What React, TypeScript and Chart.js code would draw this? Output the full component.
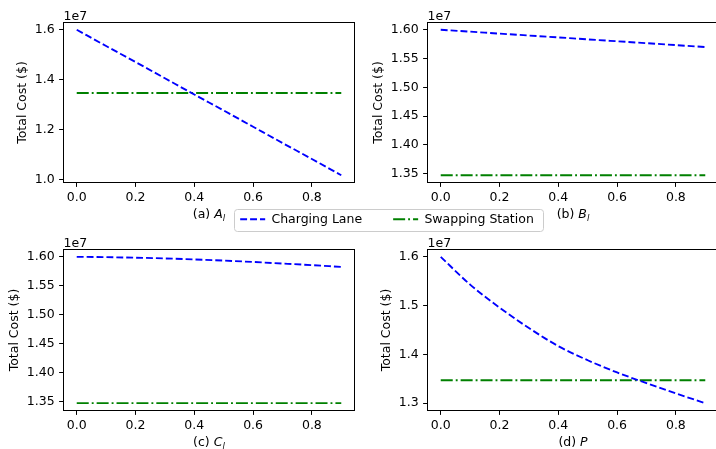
import React, { useEffect, useRef } from "react";
import { Chart, registerables } from "chart.js";

Chart.register(...registerables);

// ---------- data (values in units of 1e7 $) ----------
const xValues = [0, 0.1, 0.2, 0.3, 0.4, 0.5, 0.6, 0.7, 0.8, 0.9];
const xTicks = [0, 0.2, 0.4, 0.6, 0.8];

const chargingA = [1.6, 1.535, 1.471, 1.406, 1.341, 1.277, 1.212, 1.147, 1.083, 1.018];
const chargingB = [1.6, 1.5967, 1.5933, 1.59, 1.5867, 1.5833, 1.58, 1.5767, 1.5733, 1.57];
const chargingC = [1.6, 1.5994, 1.5985, 1.5972, 1.5955, 1.5935, 1.5911, 1.5884, 1.5856, 1.5826];
const chargingD = [1.6, 1.543, 1.496, 1.454, 1.417, 1.388, 1.363, 1.341, 1.32, 1.3];
const swapping = [1.347, 1.347, 1.347, 1.347, 1.347, 1.347, 1.347, 1.347, 1.347, 1.347];

const yTicksA = [1.0, 1.2, 1.4, 1.6];
const yTicksB = [1.35, 1.4, 1.45, 1.5, 1.55, 1.6];
const yTicksC = [1.35, 1.4, 1.45, 1.5, 1.55, 1.6];
const yTicksD = [1.3, 1.4, 1.5, 1.6];

const seriesLabels = ["Charging Lane", "Swapping Station"];
const panelLetters = ["(a)", "(b)", "(c)", "(d)"];
const panelSymbols = ["A", "B", "C", "P"];
const panelSubs = ["l", "l", "l", ""];
const yAxisTitle = "Total Cost ($)";
const offsetText = "1e7";

// ---------- styling / layout ----------
const FAM = '"DejaVu Sans", sans-serif';
const FONT_SIZE = 12.5;
const BLUE = "#0000ff";
const GREEN = "#008000";
const DASH_CHARGING = [6.9, 3];
const DASH_SWAPPING = [12, 3, 1.9, 3];
const LINE_W = 1.875;

type Lay = {
  left: number;
  top: number;
  width: number;
  height: number;
  area: { l: number; t: number; r: number; b: number };
  titlePad: number;
};

const layouts: Lay[] = [
  { left: 0, top: 0, width: 358, height: 225, area: { l: 63.5, t: 22.5, r: 354.5, b: 182.5 }, titlePad: 15 },
  { left: 358, top: 0, width: 362, height: 225, area: { l: 69.5, t: 22.5, r: 360.5, b: 182.5 }, titlePad: 12.8 },
  { left: 0, top: 225, width: 358, height: 224, area: { l: 63.5, t: 24.5, r: 354.5, b: 185.5 }, titlePad: 6.8 },
  { left: 358, top: 225, width: 362, height: 224, area: { l: 69.5, t: 24.5, r: 360.5, b: 185.5 }, titlePad: 21.2 },
];

const panels = [
  { charging: chargingA, yTicks: yTicksA, dec: 1 },
  { charging: chargingB, yTicks: yTicksB, dec: 2 },
  { charging: chargingC, yTicks: yTicksC, dec: 2 },
  { charging: chargingD, yTicks: yTicksD, dec: 1 },
];

const framePlugin = {
  id: "frame",
  afterDraw(chart: any, _args: any, opts: any) {
    const { ctx, chartArea: a } = chart;
    ctx.save();
    ctx.strokeStyle = "#000";
    ctx.lineWidth = 1;
    ctx.setLineDash([]);
    ctx.strokeRect(a.left, a.top, a.right - a.left, a.bottom - a.top);

    ctx.fillStyle = "#000";
    ctx.textAlign = "left";
    ctx.textBaseline = "alphabetic";
    ctx.font = `${FONT_SIZE}px ${FAM}`;
    ctx.fillText(offsetText, a.left, a.top - 3);

    // x label: "(x) S_sub"
    const main = `${FONT_SIZE}px ${FAM}`;
    const ital = `italic ${FONT_SIZE}px ${FAM}`;
    const subF = `italic ${FONT_SIZE * 0.7}px ${FAM}`;
    ctx.font = main;
    const w1 = ctx.measureText(opts.letter + " ").width;
    ctx.font = ital;
    const w2 = ctx.measureText(opts.symbol).width;
    ctx.font = subF;
    const w3 = opts.sub ? ctx.measureText(opts.sub).width : 0;
    const cx = (a.left + a.right) / 2;
    const y = a.bottom + 35;
    let x = cx - (w1 + w2 + w3) / 2;
    ctx.font = main;
    ctx.fillText(opts.letter + " ", x, y);
    x += w1;
    ctx.font = ital;
    ctx.fillText(opts.symbol, x, y);
    x += w2;
    if (opts.sub) {
      ctx.font = subF;
      ctx.fillText(opts.sub, x, y + 3.5);
    }
    ctx.restore();
  },
};

const legendFramePlugin = {
  id: "legendFrame",
  beforeDraw(chart: any) {
    const hb = chart.legend && chart.legend.legendHitBoxes;
    if (!hb || !hb.length) return;
    const first = hb[0];
    const last = hb[hb.length - 1];
    const cy = first.top + FONT_SIZE / 2;
    const x0 = Math.round(first.left - 6) + 0.5;
    const x1 = Math.round(last.left + last.width + 9) + 0.5;
    const y0 = Math.round(cy - 10.5) + 0.5;
    const y1 = y0 + 22;
    const r = 3;
    const { ctx } = chart;
    ctx.save();
    ctx.beginPath();
    ctx.moveTo(x0 + r, y0);
    ctx.lineTo(x1 - r, y0);
    ctx.arcTo(x1, y0, x1, y0 + r, r);
    ctx.lineTo(x1, y1 - r);
    ctx.arcTo(x1, y1, x1 - r, y1, r);
    ctx.lineTo(x0 + r, y1);
    ctx.arcTo(x0, y1, x0, y1 - r, r);
    ctx.lineTo(x0, y0 + r);
    ctx.arcTo(x0, y0, x0 + r, y0, r);
    ctx.closePath();
    ctx.fillStyle = "rgba(255,255,255,0.8)";
    ctx.fill();
    ctx.strokeStyle = "#cccccc";
    ctx.lineWidth = 1;
    ctx.stroke();
    ctx.restore();
  },
};

function Panel({ idx }: { idx: number }) {
  const ref = useRef<HTMLCanvasElement>(null);
  const lay = layouts[idx];
  const p = panels[idx];
  useEffect(() => {
    const allY = [...p.charging, ...swapping];
    const yMin = Math.min(...allY);
    const yMax = Math.max(...allY);
    const ym = 0.05 * (yMax - yMin);
    const xMinD = Math.min(...xValues);
    const xMaxD = Math.max(...xValues);
    const xm = 0.05 * (xMaxD - xMinD);
    const font = { family: FAM, size: FONT_SIZE };
    const chart = new Chart(ref.current as HTMLCanvasElement, {
      type: "line",
      data: {
        datasets: [
          {
            label: seriesLabels[0],
            data: xValues.map((x, i) => ({ x, y: p.charging[i] })),
            borderColor: BLUE,
            backgroundColor: BLUE,
            borderWidth: LINE_W,
            borderDash: DASH_CHARGING,
            pointRadius: 0,
            fill: false,
            cubicInterpolationMode: "monotone",
          },
          {
            label: seriesLabels[1],
            data: xValues.map((x, i) => ({ x, y: swapping[i] })),
            borderColor: GREEN,
            backgroundColor: GREEN,
            borderWidth: LINE_W,
            borderDash: DASH_SWAPPING,
            pointRadius: 0,
            fill: false,
            tension: 0,
          },
        ],
      },
      options: {
        responsive: false,
        animation: false,
        devicePixelRatio: 1,
        events: [],
        layout: { padding: { top: lay.area.t, right: lay.width - lay.area.r, bottom: 0, left: 0 } },
        plugins: {
          legend: { display: false },
          tooltip: { enabled: false },
          frame: { letter: panelLetters[idx], symbol: panelSymbols[idx], sub: panelSubs[idx] },
        } as any,
        scales: {
          x: {
            type: "linear",
            position: "bottom",
            min: xMinD - xm,
            max: xMaxD + xm,
            afterBuildTicks: (s: any) => {
              s.ticks = xTicks.map((v) => ({ value: v }));
            },
            afterFit: (s: any) => {
              s.height = lay.height - lay.area.b;
            },
            ticks: {
              autoSkip: false,
              maxRotation: 0,
              padding: 3.5,
              color: "#000",
              font,
              callback: (v: any) => Number(v).toFixed(1),
            },
            grid: { display: true, drawOnChartArea: false, drawTicks: true, tickLength: 4.4, tickWidth: 1, tickColor: "#000" },
            border: { display: false },
          },
          y: {
            type: "linear",
            position: "left",
            min: yMin - ym,
            max: yMax + ym,
            afterBuildTicks: (s: any) => {
              s.ticks = p.yTicks.map((v) => ({ value: v }));
            },
            afterFit: (s: any) => {
              s.width = lay.area.l;
            },
            ticks: {
              autoSkip: false,
              padding: 4.4,
              color: "#000",
              font,
              callback: (v: any) => Number(v).toFixed(p.dec),
            },
            grid: { display: true, drawOnChartArea: false, drawTicks: true, tickLength: 4.4, tickWidth: 1, tickColor: "#000" },
            border: { display: false },
            title: {
              display: true,
              text: yAxisTitle,
              color: "#000",
              font,
              padding: { top: lay.titlePad, bottom: 0 },
            },
          },
        },
      },
      plugins: [framePlugin],
    } as any);
    return () => chart.destroy();
  }, []);
  return (
    <canvas
      ref={ref}
      width={lay.width}
      height={lay.height}
      style={{ position: "absolute", left: lay.left, top: lay.top, width: lay.width, height: lay.height }}
    />
  );
}

function Legend() {
  const ref = useRef<HTMLCanvasElement>(null);
  useEffect(() => {
    const chart = new Chart(ref.current as HTMLCanvasElement, {
      type: "line",
      data: {
        datasets: [
          { label: seriesLabels[0], data: [], borderColor: BLUE, backgroundColor: BLUE, borderWidth: LINE_W, borderDash: DASH_CHARGING },
          { label: seriesLabels[1], data: [], borderColor: GREEN, backgroundColor: GREEN, borderWidth: LINE_W, borderDash: DASH_SWAPPING },
        ],
      },
      options: {
        responsive: false,
        animation: false,
        devicePixelRatio: 1,
        events: [],
        layout: { padding: 0 },
        scales: { x: { display: false }, y: { display: false } },
        plugins: {
          tooltip: { enabled: false },
          legend: {
            display: true,
            position: "top",
            align: "center",
            labels: {
              usePointStyle: true,
              pointStyle: "line",
              pointStyleWidth: 25,
              padding: 31,
              color: "#000",
              font: { family: FAM, size: FONT_SIZE },
              generateLabels: (c: any) => {
                const items = (Chart.defaults as any).plugins.legend.labels.generateLabels(c);
                items.forEach((it: any, i: number) => {
                  const ds = c.data.datasets[i];
                  it.lineDash = ds.borderDash;
                  it.strokeStyle = ds.borderColor;
                  it.fillStyle = ds.borderColor;
                  it.lineWidth = ds.borderWidth;
                  it.pointStyle = "line";
                });
                return items;
              },
            },
          },
        },
      },
      plugins: [legendFramePlugin],
    } as any);
    return () => chart.destroy();
  }, []);
  return (
    <canvas
      ref={ref}
      width={400}
      height={200}
      style={{ position: "absolute", left: 187, top: 182, width: 400, height: 200 }}
    />
  );
}

export default function App() {
  return (
    <div
      style={{
        position: "absolute",
        left: 0,
        top: 0,
        width: 716,
        height: 449,
        overflow: "hidden",
        background: "#fff",
      }}
    >
      {layouts.map((_, i) => (
        <Panel key={i} idx={i} />
      ))}
      <Legend />
    </div>
  );
}
